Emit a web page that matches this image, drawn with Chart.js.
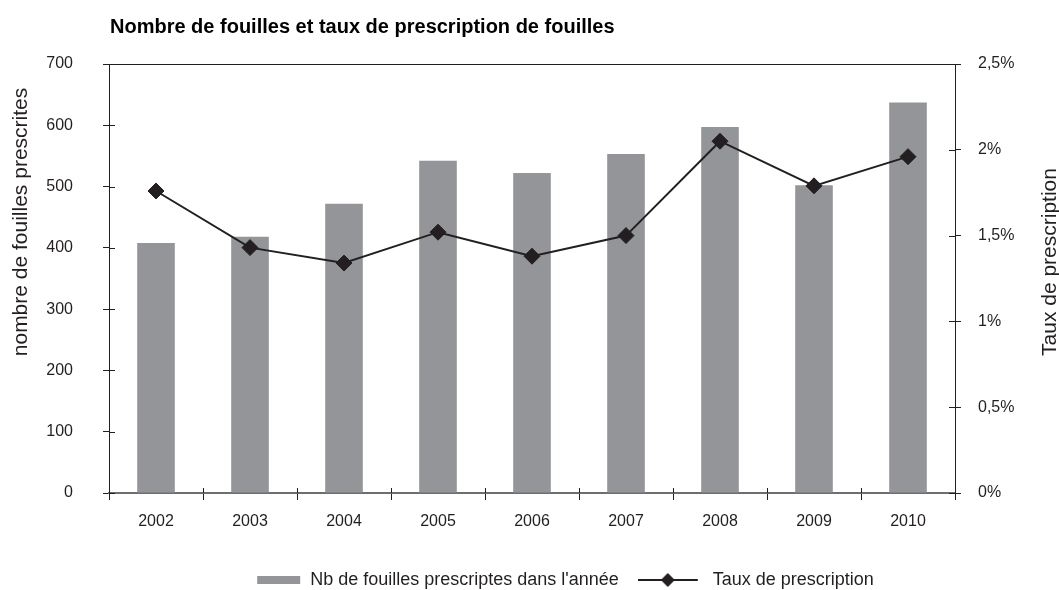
<!DOCTYPE html>
<html lang="fr">
<head>
<meta charset="utf-8">
<title>Nombre de fouilles et taux de prescription</title>
<script src="https://cdn.jsdelivr.net/npm/chart.js@4.4.1/dist/chart.umd.min.js"></script>
<style>
  html, body { margin: 0; padding: 0; background: #fff; }
</style>
</head>
<body>
<canvas id="fouillesChart" width="1059" height="590"></canvas>
<script>
// --- data ---
const years = ['2002', '2003', '2004', '2005', '2006', '2007', '2008', '2009', '2010'];
const nbFouilles = [408, 418, 472, 542, 522, 553, 597, 502, 637];
const tauxPrescription = [1.76, 1.43, 1.34, 1.52, 1.38, 1.50, 2.05, 1.79, 1.96];
const rateTickLabels = ['0%', '0,5%', '1%', '1,5%', '2%', '2,5%'];
const seriesNames = ["Nb de fouilles prescriptes dans l'année", 'Taux de prescription'];

const chartTitle = 'Nombre de fouilles et taux de prescription de fouilles';
const leftTitle = 'nombre de fouilles prescrites';
const rightTitle = 'Taux de prescription';

const FONT = '"Liberation Sans", Arial, Helvetica, sans-serif';
const DARK = '#231f20';
const BAR_GREY = '#939598';
const AXIS_GREY = '#6d6e71';

// legend symbols as small canvases
function barSymbol() {
  const c = document.createElement('canvas');
  c.width = 66; c.height = 8;
  const g = c.getContext('2d');
  g.fillStyle = BAR_GREY;
  g.fillRect(22, 0, 43, 8);
  return c;
}
function lineSymbol() {
  const c = document.createElement('canvas');
  c.width = 66; c.height = 18;
  const g = c.getContext('2d');
  g.strokeStyle = DARK;
  g.lineWidth = 2;
  g.beginPath(); g.moveTo(0, 9); g.lineTo(60, 9); g.stroke();
  g.fillStyle = DARK;
  g.beginPath();
  g.moveTo(30, 2); g.lineTo(37, 9); g.lineTo(30, 16); g.lineTo(23, 9);
  g.closePath(); g.fill();
  return c;
}

const legendShift = { x: 25, y: 9 };

const decorations = {
  id: 'decorations',
  afterLayout(chart) {
    const lg = chart.legend;
    if (!lg) return;
    lg.left += legendShift.x; lg.right += legendShift.x;
    lg.top += legendShift.y; lg.bottom += legendShift.y;
  },
  afterDraw(chart) {
    const { ctx, chartArea: a, scales } = chart;
    ctx.save();
    ctx.strokeStyle = DARK;
    ctx.lineWidth = 1;
    // top frame line
    ctx.beginPath();
    ctx.moveTo(a.left - 6, a.top + 0.5);
    ctx.lineTo(a.right, a.top + 0.5);
    ctx.stroke();

    // inner halves of the tick marks (ticks cross the axes)
    ctx.beginPath();
    scales.yCount.ticks.forEach((t) => {
      const y = Math.round(scales.yCount.getPixelForValue(t.value)) + 0.5;
      ctx.moveTo(a.left, y); ctx.lineTo(a.left + 6, y);
    });
    scales.yRate.ticks.forEach((t) => {
      const y = Math.round(scales.yRate.getPixelForValue(t.value)) + 0.5;
      ctx.moveTo(a.right - 6, y); ctx.lineTo(a.right, y);
    });
    const step = (a.right - a.left) / years.length;
    for (let i = 1; i < years.length; i++) {
      const x = Math.round(a.left + i * step) + 0.5;
      ctx.moveTo(x, a.bottom - 5); ctx.lineTo(x, a.bottom);
    }
    ctx.stroke();

    // chart title
    ctx.fillStyle = '#000';
    ctx.font = 'bold 20px ' + FONT;
    ctx.textAlign = 'left';
    ctx.textBaseline = 'alphabetic';
    ctx.fillText(chartTitle, 110, 33);

    // axis titles
    ctx.fillStyle = DARK;
    ctx.font = '21px ' + FONT;
    ctx.textAlign = 'center';
    ctx.textBaseline = 'middle';
    ctx.save();
    ctx.translate(21, 222);
    ctx.rotate(-Math.PI / 2);
    ctx.fillText(leftTitle, 0, 0);
    ctx.restore();
    ctx.save();
    ctx.translate(1050, 262);
    ctx.rotate(-Math.PI / 2);
    ctx.fillText(rightTitle, 0, 0);
    ctx.restore();
    ctx.restore();
  }
};

const ctx = document.getElementById('fouillesChart').getContext('2d');

const config = {
  type: 'bar',
  data: {
    labels: years,
    datasets: [
      {
        type: 'line',
        label: seriesNames[1],
        data: tauxPrescription,
        yAxisID: 'yRate',
        borderColor: DARK,
        borderWidth: 2,
        pointStyle: 'rectRot',
        pointRadius: 8,
        pointBackgroundColor: DARK,
        pointBorderColor: DARK,
        pointBorderWidth: 1,
        tension: 0,
        order: 1
      },
      {
        type: 'bar',
        label: seriesNames[0],
        data: nbFouilles,
        yAxisID: 'yCount',
        backgroundColor: BAR_GREY,
        borderWidth: 0,
        barPercentage: 0.4,
        categoryPercentage: 1.0,
        order: 2
      }
    ]
  },
  options: {
    responsive: false,
    animation: false,
    layout: { padding: { top: 64, left: 0, right: 0, bottom: 0 } },
    plugins: {
      title: { display: false },
      tooltip: { enabled: false },
      legend: {
        position: 'bottom',
        labels: {
          usePointStyle: true,
          pointStyleWidth: 66,
          padding: 19,
          color: DARK,
          font: { family: FONT, size: 18 },
          generateLabels: () => [
            { text: seriesNames[0], pointStyle: barSymbol(), fontColor: DARK, hidden: false, datasetIndex: 1, lineWidth: 0 },
            { text: seriesNames[1], pointStyle: lineSymbol(), fontColor: DARK, hidden: false, datasetIndex: 0, lineWidth: 0 }
          ]
        }
      }
    },
    scales: {
      x: {
        type: 'category',
        offset: true,
        grid: { offset: true, drawOnChartArea: false, drawTicks: true, tickLength: 7, color: DARK },
        border: { color: AXIS_GREY, width: 2 },
        ticks: { color: DARK, font: { family: FONT, size: 16 }, padding: 12, maxRotation: 0 },
        afterFit(s) { s.height = 50; }
      },
      yCount: {
        position: 'left',
        min: 0,
        max: 700,
        ticks: { stepSize: 100, color: DARK, font: { family: FONT, size: 16 }, padding: 30 },
        grid: { drawOnChartArea: false, drawTicks: true, tickLength: 6, color: DARK },
        border: { color: DARK, width: 1 },
        afterFit(s) { s.width = 109; }
      },
      yRate: {
        position: 'right',
        min: 0,
        max: 2.5,
        ticks: {
          stepSize: 0.5,
          color: DARK,
          font: { family: FONT, size: 16 },
          padding: 17,
          callback: (v, i) => rateTickLabels[i]
        },
        grid: { drawOnChartArea: false, drawTicks: true, tickLength: 6, color: DARK },
        border: { color: DARK, width: 1 },
        afterFit(s) { s.width = 104; }
      }
    }
  },
  plugins: [decorations]
};

const fouillesChart = new Chart(ctx, config);
</script>
</body>
</html>
